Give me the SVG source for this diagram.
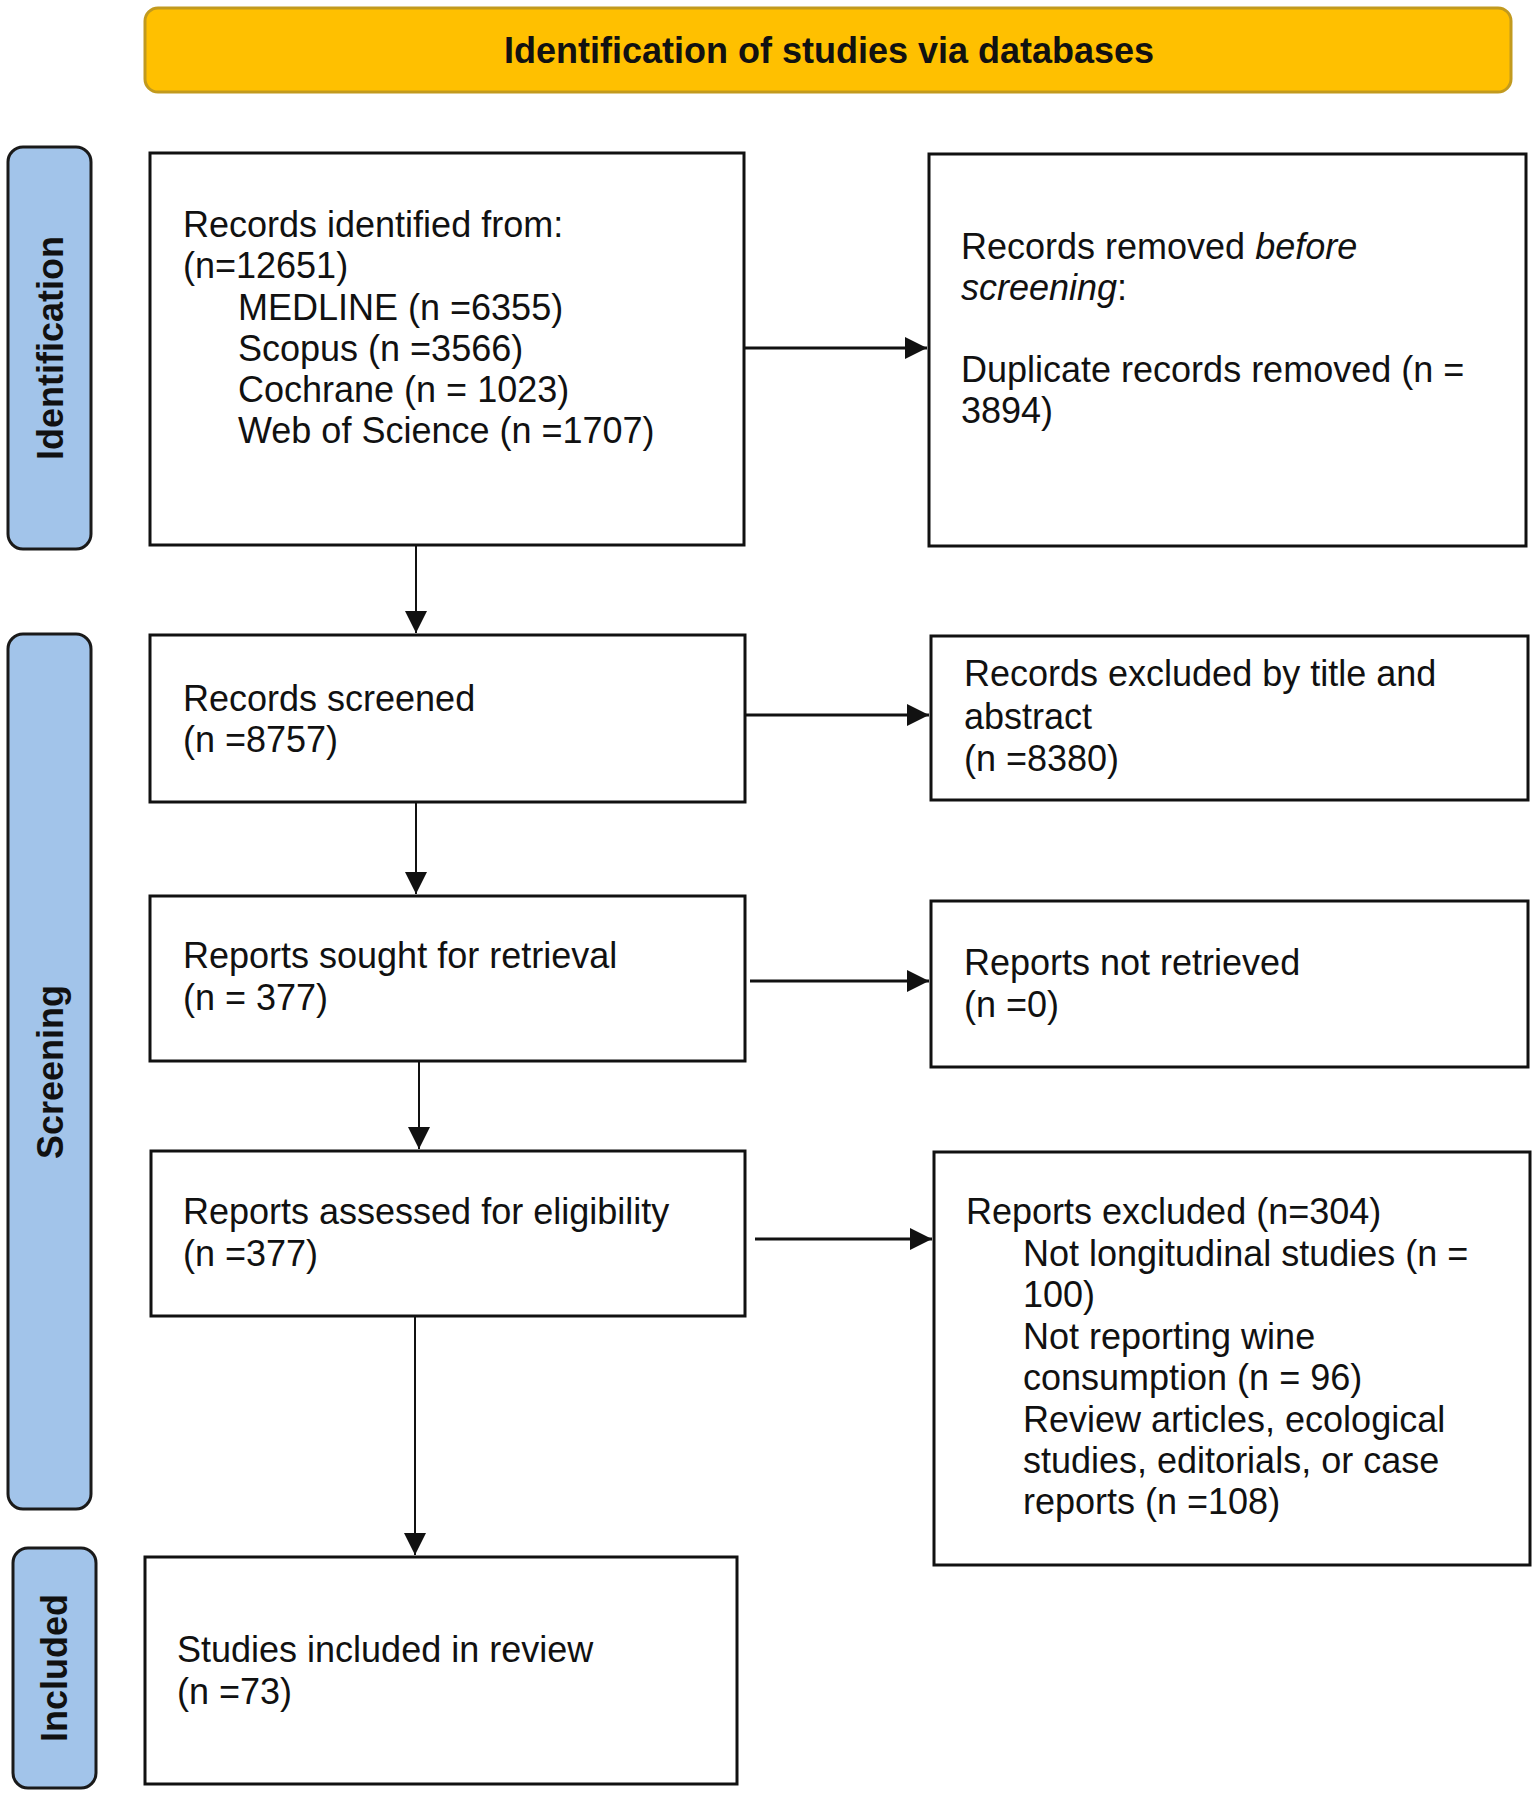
<svg xmlns="http://www.w3.org/2000/svg" width="1535" height="1798" viewBox="0 0 1535 1798">
<style>
.box{fill:#fff;stroke:#111;stroke-width:3}
.lab{fill:#A2C4EA;stroke:#1a1a1a;stroke-width:3}
.t{font-family:"Liberation Sans",Arial,sans-serif;font-size:36px;fill:#111}
.b{font-family:"Liberation Sans",Arial,sans-serif;font-size:36px;font-weight:bold;fill:#111}
.c{stroke:#111;stroke-width:2;fill:none}
.ch{stroke:#111;stroke-width:3;fill:none}
</style>
<defs>
<marker id="ah" viewBox="0 0 22 22" refX="22" refY="11" markerWidth="22" markerHeight="22" markerUnits="userSpaceOnUse" orient="auto">
<path d="M0,0 L22,11 L0,22 Z" fill="#111"/>
</marker>
</defs>
<rect width="1535" height="1798" fill="#fff"/>
<g id="banner">
<rect x="145" y="8" width="1366" height="84" rx="13" fill="#FFC000" stroke="#C29A1E" stroke-width="3"/>
<text class="b" x="829" y="63" text-anchor="middle">Identification of studies via databases</text>
</g>
<g id="label-identification">
<rect class="lab" x="8" y="147" width="83" height="402" rx="15"/>
<text class="b" transform="translate(63,348) rotate(-90)" text-anchor="middle">Identification</text>
</g>
<g id="label-screening">
<rect class="lab" x="8" y="634" width="83" height="875" rx="15"/>
<text class="b" transform="translate(63,1072) rotate(-90)" text-anchor="middle">Screening</text>
</g>
<g id="label-included">
<rect class="lab" x="13" y="1548" width="83" height="240" rx="15"/>
<text class="b" transform="translate(67,1668) rotate(-90)" text-anchor="middle">Included</text>
</g>
<g id="records-identified">
<rect class="box" x="150" y="153" width="594" height="392"/>
<text class="t" x="183" y="237">Records identified from:</text>
<text class="t" x="183" y="278">(n=12651)</text>
<text class="t" x="238" y="320">MEDLINE (n =6355)</text>
<text class="t" x="238" y="361">Scopus (n =3566)</text>
<text class="t" x="238" y="402">Cochrane (n = 1023)</text>
<text class="t" x="238" y="443">Web of Science (n =1707)</text>
</g>
<g id="records-removed">
<rect class="box" x="929" y="154" width="597" height="392"/>
<text class="t" x="961" y="259">Records removed <tspan font-style="italic">before</tspan></text>
<text class="t" x="961" y="300"><tspan font-style="italic">screening</tspan>:</text>
<text class="t" x="961" y="382">Duplicate records removed (n =</text>
<text class="t" x="961" y="423">3894)</text>
</g>
<g id="records-screened">
<rect class="box" x="150" y="635" width="595" height="167"/>
<text class="t" x="183" y="711">Records screened</text>
<text class="t" x="183" y="752">(n =8757)</text>
</g>
<g id="records-excluded">
<rect class="box" x="931" y="636" width="597" height="164"/>
<text class="t" x="964" y="686">Records excluded by title and</text>
<text class="t" x="964" y="729">abstract</text>
<text class="t" x="964" y="771">(n =8380)</text>
</g>
<g id="reports-sought">
<rect class="box" x="150" y="896" width="595" height="165"/>
<text class="t" x="183" y="968">Reports sought for retrieval</text>
<text class="t" x="183" y="1010">(n = 377)</text>
</g>
<g id="reports-not-retrieved">
<rect class="box" x="931" y="901" width="597" height="166"/>
<text class="t" x="964" y="975">Reports not retrieved</text>
<text class="t" x="964" y="1017">(n =0)</text>
</g>
<g id="reports-assessed">
<rect class="box" x="151" y="1151" width="594" height="165"/>
<text class="t" x="183" y="1224">Reports assessed for eligibility</text>
<text class="t" x="183" y="1266">(n =377)</text>
</g>
<g id="reports-excluded">
<rect class="box" x="934" y="1152" width="596" height="413"/>
<text class="t" x="966" y="1224">Reports excluded (n=304)</text>
<text class="t" x="1023" y="1266">Not longitudinal studies (n =</text>
<text class="t" x="1023" y="1307">100)</text>
<text class="t" x="1023" y="1349">Not reporting wine</text>
<text class="t" x="1023" y="1390">consumption (n = 96)</text>
<text class="t" x="1023" y="1432">Review articles, ecological</text>
<text class="t" x="1023" y="1473">studies, editorials, or case</text>
<text class="t" x="1023" y="1514">reports (n =108)</text>
</g>
<g id="studies-included">
<rect class="box" x="145" y="1557" width="592" height="227"/>
<text class="t" x="177" y="1662">Studies included in review</text>
<text class="t" x="177" y="1704">(n =73)</text>
</g>
<g id="connectors">
<line class="c" x1="416" y1="546" x2="416" y2="633" marker-end="url(#ah)"/>
<line class="c" x1="416" y1="803" x2="416" y2="894" marker-end="url(#ah)"/>
<line class="c" x1="419" y1="1062" x2="419" y2="1149" marker-end="url(#ah)"/>
<line class="c" x1="415" y1="1317" x2="415" y2="1555" marker-end="url(#ah)"/>
<line class="ch" x1="745" y1="348" x2="927" y2="348" marker-end="url(#ah)"/>
<line class="ch" x1="746" y1="715" x2="929" y2="715" marker-end="url(#ah)"/>
<line class="ch" x1="750" y1="981" x2="929" y2="981" marker-end="url(#ah)"/>
<line class="ch" x1="755" y1="1239" x2="932" y2="1239" marker-end="url(#ah)"/>
</g>
</svg>
